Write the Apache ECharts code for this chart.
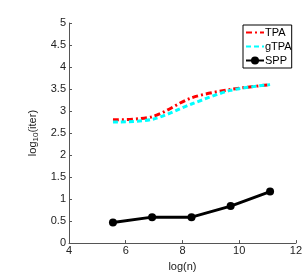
<!DOCTYPE html>
<html><head><meta charset="utf-8">
<script src="https://cdn.jsdelivr.net/npm/echarts@6/dist/echarts.min.js"></script>
<style>html,body{margin:0;padding:0;background:#fff}#c{width:305px;height:277px}</style>
</head><body><div id="c"></div>
<script>
const logN = [5.55, 6.93, 8.32, 9.70, 11.09];
const tpa  = [2.80, 2.87, 3.30, 3.49, 3.60];
const gtpa = [2.75, 2.81, 3.16, 3.47, 3.60];
const spp  = [0.47, 0.59, 0.59, 0.84, 1.17];
const xTicks = [4, 6, 8, 10, 12];
const yTicks = [0, 0.5, 1, 1.5, 2, 2.5, 3, 3.5, 4, 4.5, 5];

const pair = (ys) => logN.map((x, i) => [x, ys[i]]);
const font = 'Liberation Sans, Arial, sans-serif';
const chart = echarts.init(document.getElementById('c'), null, {renderer: 'canvas'});
chart.setOption({
  animation: false,
  backgroundColor: '#fff',
  textStyle: {fontFamily: font},
  grid: {left: 69, right: 8, top: 23, bottom: 27},
  legend: {
    left: 243, top: 25, orient: 'vertical',
    backgroundColor: '#fff', borderColor: '#000', borderWidth: 1,
    padding: [2, 0, 2, 2], itemGap: 3, itemWidth: 18, itemHeight: 10,
    textStyle: {fontSize: 11, color: '#000', fontFamily: font, padding: [0, 0, 0, -4]},
    data: [
      {name: 'TPA', itemStyle: {opacity: 0}},
      {name: 'gTPA', itemStyle: {opacity: 0}},
      {name: 'SPP'}
    ]
  },
  xAxis: {
    type: 'value', min: 4, max: 12, interval: 2,
    name: 'log(n)', nameLocation: 'middle', nameGap: 14,
    nameTextStyle: {fontSize: 11, color: '#222', fontFamily: font},
    axisLine: {lineStyle: {color: '#555', width: 1}},
    axisTick: {inside: true, length: 3, lineStyle: {color: '#555'}},
    axisLabel: {fontSize: 11, color: '#222', margin: 2, fontFamily: font,
      formatter: v => xTicks.includes(v) ? String(v) : ''},
    splitLine: {show: false}
  },
  yAxis: {
    type: 'value', min: 0, max: 5, interval: 0.5,
    name: '{a|log}{b|10}{a|(iter)}', nameLocation: 'middle', nameGap: 25, nameRotate: 90,
    nameTextStyle: {rich: {
      a: {fontSize: 11, color: '#222', fontFamily: font},
      b: {fontSize: 8, color: '#222', fontFamily: font, verticalAlign: 'bottom', padding: [6, 0, 0, 0]}
    }},
    axisLine: {show: true, lineStyle: {color: '#555', width: 1}},
    axisTick: {show: true, inside: true, length: 3, lineStyle: {color: '#555'}},
    axisLabel: {fontSize: 11, color: '#222', margin: 3, fontFamily: font,
      formatter: v => yTicks.includes(v) ? String(v) : ''},
    splitLine: {show: false}
  },
  series: [
    {name: 'TPA', type: 'line', data: pair(tpa), smooth: 0.3,
     showSymbol: false, symbol: 'none', color: '#ff0000',
     lineStyle: {color: '#ff0000', width: 3, type: [6, 3, 2, 3]}},
    {name: 'gTPA', type: 'line', data: pair(gtpa), smooth: 0.3,
     showSymbol: false, symbol: 'none', color: '#00ffff',
     lineStyle: {color: '#00ffff', width: 3, type: [5, 3]}},
    {name: 'SPP', type: 'line', data: pair(spp), symbol: 'circle', symbolSize: 8, color: '#000',
     itemStyle: {color: '#000'}, lineStyle: {color: '#000', width: 3}}
  ]
});
</script></body></html>
